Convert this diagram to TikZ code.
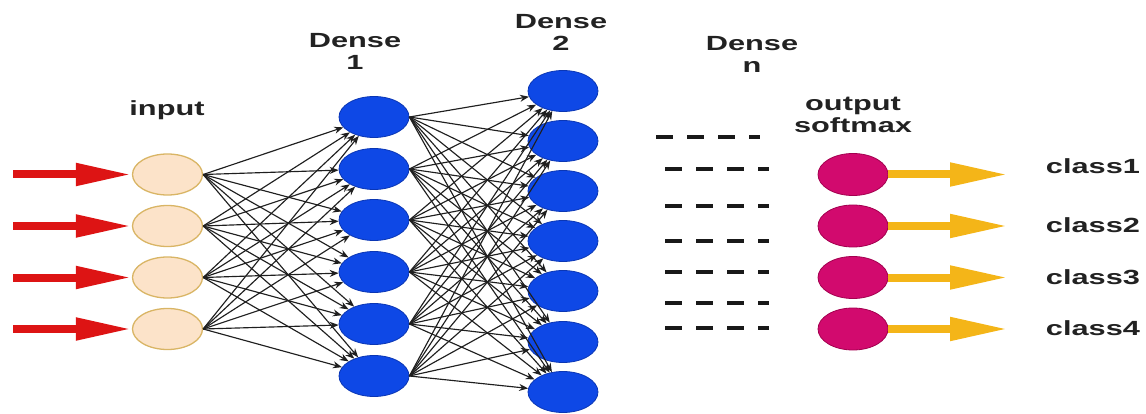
\documentclass[tikz,border=0pt]{standalone}
\usepackage{fontspec}
\setmainfont{Liberation Sans}
\usetikzlibrary{arrows.meta,shapes.geometric}

\definecolor{peach}{HTML}{FCE3C9}
\definecolor{peachline}{HTML}{D9B565}
\definecolor{nnblue}{HTML}{0E48E6}
\definecolor{nnblueline}{HTML}{0A36B4}
\definecolor{magen}{HTML}{D20A6E}
\definecolor{magenline}{HTML}{A3004F}
\definecolor{inred}{HTML}{DD1414}
\definecolor{outorange}{HTML}{F4B518}
\definecolor{labelgray}{HTML}{222222}

% wide bold labels
\newcommand{\widelbl}[1]{\scalebox{1.5}[1]{\begin{tabular}{@{}c@{}}#1\end{tabular}}}

\tikzset{
  neuron/.style={ellipse, minimum width=70pt, minimum height=41pt, inner sep=0pt, line width=1pt},
  innode/.style={neuron, fill=peach, draw=peachline, line width=1.3pt},
  hidnode/.style={neuron, fill=nnblue, draw=nnblueline, line width=0.8pt},
  outnode/.style={neuron, fill=magen, draw=magenline, line width=0.8pt, minimum height=42pt},
  conn/.style={line width=1.15pt, black!88, -{Stealth[length=9pt,width=7pt]}},
  feedarrow/.style={line width=8pt, inred, -{Triangle[length=56pt,width=21pt]}},
  resultarrow/.style={line width=8pt, outorange, -{Triangle[length=58pt,width=22pt]}},
  lbl/.style={font=\fontsize{20.5}{22}\selectfont\bfseries, text=labelgray, inner sep=0pt},
  gapdash/.style={line width=3.5pt, black!90, dash pattern=on 17pt off 14pt}
}

\begin{document}
\begin{tikzpicture}[x=1pt,y=-1pt]
\useasboundingbox (0,0) rectangle (1146,414);

% input layer
\foreach \i/\y in {1/174.5,2/226,3/277.5,4/329}{
  \node[innode] (in\i) at (167.5,\y) {};
  \coordinate (src\i) at (13,\y);
}
% first dense layer
\foreach \j/\y in {1/117,2/169,3/220,4/272,5/324,6/376}{
  \node[hidnode] (da\j) at (374,\y) {};
}
% second dense layer
\foreach \k/\y in {1/91,2/141,3/191,4/241,5/291,6/342,7/392}{
  \node[hidnode] (db\k) at (563,\y) {};
}
% output layer
\foreach \i/\y in {1/174.5,2/226,3/277.5,4/329}{
  \node[outnode] (out\i) at (853,\y) {};
  \coordinate (dst\i) at (1008,\y);
}

% fully connected links
\foreach \i in {1,...,4}{
  \foreach \j in {1,...,6}{
    \draw[conn] (in\i.east) -- (da\j);
  }
}
\foreach \j in {1,...,6}{
  \foreach \k in {1,...,7}{
    \draw[conn] (da\j.east) -- (db\k);
  }
}

% incoming and outgoing arrows
\foreach \i in {1,...,4}{
  \draw[feedarrow] (src\i) -- (in\i.west);
  \draw[resultarrow] (out\i.east) -- (dst\i);
}

% elided layers
\draw[gapdash] (656,137) -- (760,137);
\foreach \y in {169,206,241,272,303,328}{
  \draw[gapdash] (665,\y) -- (769,\y);
}

% labels
\node[lbl] (linput) at (167,111) {\widelbl{input}};
\node[lbl] (ldensea) at (355,54) {\widelbl{Dense\\1}};
\node[lbl] (ldenseb) at (561,35) {\widelbl{Dense\\2}};
\node[lbl] (ldensen) at (752,57) {\widelbl{Dense\\n}};
\node[lbl] (loutput) at (853,117) {\widelbl{output\\softmax}};
\foreach \i/\y in {1/169,2/228,3/280,4/331}{
  \node[lbl] (lclass\i) at (1093,\y) {\widelbl{class\i}};
}
\end{tikzpicture}
\end{document}
